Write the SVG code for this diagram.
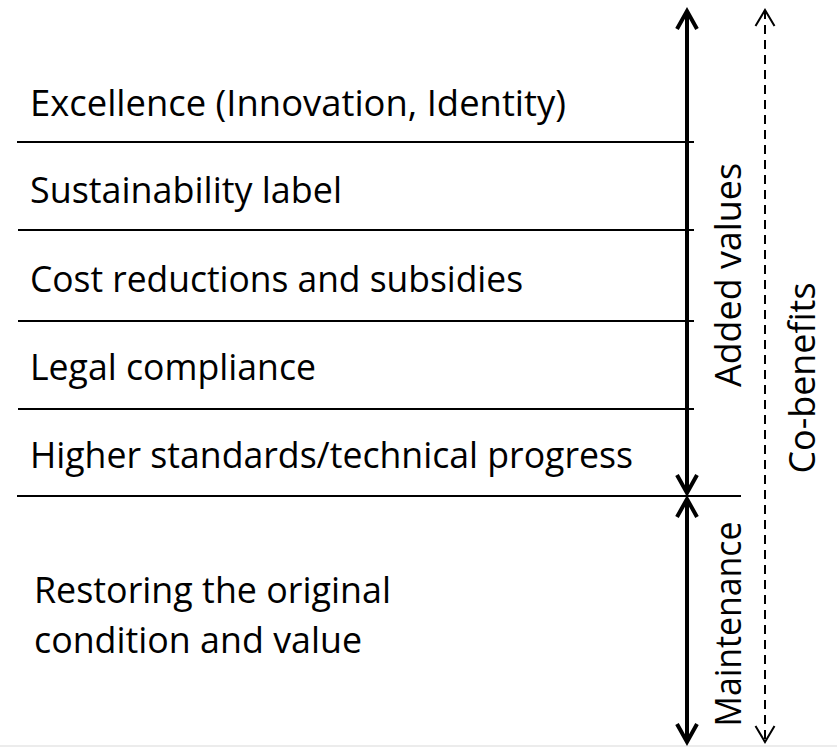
<svg xmlns="http://www.w3.org/2000/svg" width="837" height="747" viewBox="0 0 837 747">
  <style>
    .lbl { font-family: "Open Sans", "Liberation Sans", sans-serif; font-size: 36px; fill: #000; }
    .rule { stroke: #000; stroke-width: 2; fill: none; }
    .bold { stroke: #000; stroke-width: 4; fill: none; }
    .dash { stroke: #000; stroke-width: 2; stroke-dasharray: 9 6; fill: none; }
  </style>
  <defs>
    <marker id="headBold" markerUnits="userSpaceOnUse" markerWidth="30" markerHeight="30" viewBox="-25 -15 30 30" refX="0" refY="0" orient="auto-start-reverse">
      <path d="M-18,-10 L0,0 L-18,10" fill="none" stroke="#000" stroke-width="4" stroke-linejoin="miter"/>
    </marker>
    <marker id="headDash" markerUnits="userSpaceOnUse" markerWidth="30" markerHeight="30" viewBox="-25 -15 30 30" refX="0" refY="0" orient="auto-start-reverse">
      <path d="M-16,-9.5 L0,0 L-16,9.5" fill="none" stroke="#000" stroke-width="2"/>
    </marker>
  </defs>
  <rect width="837" height="747" fill="#fff"/>
  <line x1="0" y1="746" x2="837" y2="746" stroke="#ececec" stroke-width="2"/>

  <g id="connectors">
    <line class="rule" x1="17" y1="142" x2="694" y2="142"/>
    <line class="rule" x1="18" y1="230" x2="694" y2="230"/>
    <line class="rule" x1="18" y1="321" x2="694" y2="321"/>
    <line class="rule" x1="18" y1="409" x2="694" y2="409"/>
    <line class="rule" x1="17" y1="496" x2="741" y2="496"/>
    <line class="bold" x1="687" y1="11" x2="687" y2="493" marker-start="url(#headBold)" marker-end="url(#headBold)"/>
    <line class="bold" x1="687" y1="499" x2="687" y2="742" marker-start="url(#headBold)" marker-end="url(#headBold)"/>
    <line class="dash" x1="765" y1="10" x2="765" y2="742" marker-start="url(#headDash)" marker-end="url(#headDash)"/>
  </g>

  <g id="excellence"><text class="lbl" x="30" y="116" textLength="536" lengthAdjust="spacingAndGlyphs">Excellence (Innovation, Identity)</text></g>
  <g id="sustainability"><text class="lbl" x="30" y="203" textLength="312" lengthAdjust="spacingAndGlyphs">Sustainability label</text></g>
  <g id="cost"><text class="lbl" x="30" y="292" textLength="493" lengthAdjust="spacingAndGlyphs">Cost reductions and subsidies</text></g>
  <g id="legal"><text class="lbl" x="30" y="380" textLength="286" lengthAdjust="spacingAndGlyphs">Legal compliance</text></g>
  <g id="higher"><text class="lbl" x="30" y="468" textLength="603" lengthAdjust="spacingAndGlyphs">Higher standards/technical progress</text></g>
  <g id="restoring">
    <text class="lbl" x="34" y="603" textLength="357" lengthAdjust="spacingAndGlyphs">Restoring the original</text>
    <text class="lbl" x="34" y="653" textLength="328" lengthAdjust="spacingAndGlyphs">condition and value</text>
  </g>
  <g id="added-values"><text class="lbl" text-anchor="middle" transform="translate(741,275) rotate(-90)" textLength="224" lengthAdjust="spacingAndGlyphs">Added values</text></g>
  <g id="maintenance"><text class="lbl" text-anchor="middle" transform="translate(741,624) rotate(-90)" textLength="205" lengthAdjust="spacingAndGlyphs">Maintenance</text></g>
  <g id="co-benefits"><text class="lbl" text-anchor="middle" transform="translate(815,378) rotate(-90)" textLength="191" lengthAdjust="spacingAndGlyphs">Co-benefits</text></g>
</svg>
